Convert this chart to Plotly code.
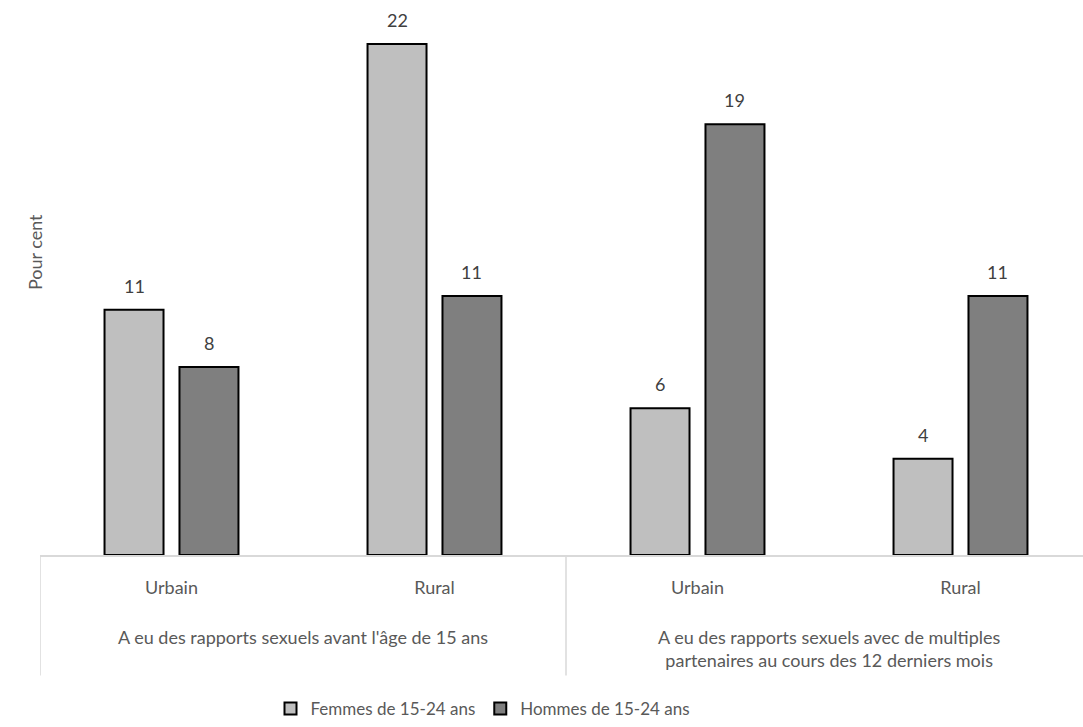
import plotly.graph_objects as go

# ---- data ----
categories = ["Urbain", "Rural", "Urbain", "Rural"]
groups = ["A eu des rapports sexuels avant l'âge de 15 ans",
          "A eu des rapports sexuels avec de multiples<br>partenaires au cours des 12 derniers mois"]
series_names = ["Femmes de 15-24 ans", "Hommes de 15-24 ans"]
femmes = [10.7, 22.3, 6.4, 4.2]
hommes = [8.2, 11.3, 18.8, 11.3]
femmes_labels = ["11", "22", "6", "4"]
hommes_labels = ["8", "11", "19", "11"]

W, H = 1083, 727
ML, MR, MT, MB = 40, 0, 12, 170
plot_w = W - ML - MR
plot_h = H - MT - MB
cat_px = 263.0
xmax = plot_w / cat_px - 0.5
px_per_unit = 23.0
ymax = plot_h / px_per_unit

xs = list(range(len(categories)))
colors = ["#bfbfbf", "#7f7f7f"]
font_family = "Lato, 'Open Sans', sans-serif"
FS = 18

fig = go.Figure()
for name, vals, col in zip(series_names, [femmes, hommes], colors):
    fig.add_trace(go.Bar(
        x=xs, y=vals, name=name,
        marker=dict(color=col, line=dict(color="black", width=2)),
    ))

bargap = 0.43
bargroupgap = 0.213
slot = (1 - bargap) / 2
offsets = [-slot / 2, slot / 2]
annotations = []
for off, vals, labs in zip(offsets, [femmes, hommes], [femmes_labels, hommes_labels]):
    for x, v, t in zip(xs, vals, labs):
        annotations.append(dict(x=x + off, y=v, xref="x", yref="y", text=t,
                                showarrow=False, yshift=24,
                                font=dict(size=FS, color="#404040", family=font_family)))

# group labels
for gi, g in enumerate(groups):
    xc = 2 * gi + 0.5
    annotations.append(dict(x=xc, xref="x", y=-(626 - (MT + plot_h)) / plot_h, yref="paper",
                            yanchor="top", text=g, showarrow=False, align="center",
                            font=dict(size=FS, color="#595959", family=font_family)))

# y-axis title
annotations.append(dict(x=(22 - ML) / plot_w, xref="paper", y=1 - (253 - MT) / plot_h, yref="paper",
                        text="Pour cent", textangle=-90, showarrow=False,
                        font=dict(size=FS, color="#595959", family=font_family)))

shapes = []
for xd in [-0.5, 1.5]:
    shapes.append(dict(type="line", xref="x", yref="paper", x0=xd, x1=xd,
                       y0=0, y1=-(678 - (MT + plot_h)) / plot_h,
                       line=dict(color="#d9d9d9", width=1.5)))

fig.update_layout(
    width=W, height=H,
    margin=dict(l=ML, r=MR, t=MT, b=MB),
    plot_bgcolor="white", paper_bgcolor="white",
    barmode="group", bargap=bargap, bargroupgap=bargroupgap,
    font=dict(family=font_family, size=FS, color="#595959"),
    xaxis=dict(range=[-0.5, xmax], tickvals=xs, ticktext=categories,
               showline=True, linecolor="#d9d9d9", linewidth=1.5,
               ticks="", showgrid=False, zeroline=False, ticklabelstandoff=16,
               tickfont=dict(size=FS, color="#595959")),
    yaxis=dict(range=[0, ymax], showticklabels=False, showgrid=False,
               zeroline=False, showline=False, ticks=""),
    legend=dict(orientation="h", x=(483 - ML) / plot_w, xanchor="center",
                y=-(712 - (MT + plot_h)) / plot_h, yanchor="middle",
                font=dict(size=17, color="#595959"), itemwidth=30,
                traceorder="normal"),
    annotations=annotations,
    shapes=shapes,
)

fig.write_html("out.html", config={"displayModeBar": False},
               post_script="document.body.style.margin='0';")
